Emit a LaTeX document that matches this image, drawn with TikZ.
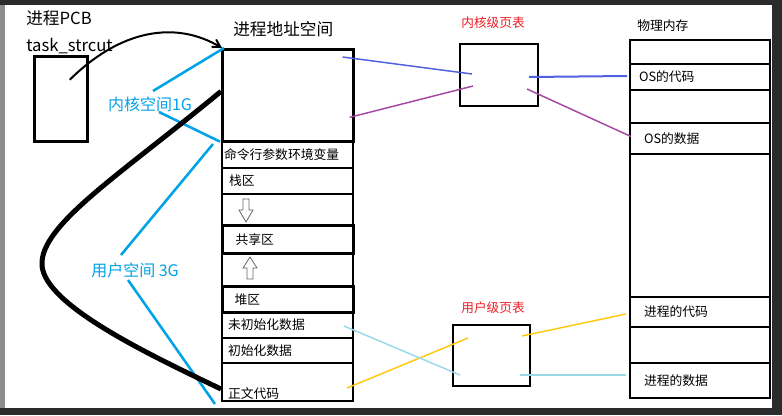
\documentclass[tikz,border=0pt]{standalone}
\usepackage{fontspec}
\setmainfont{Noto Sans CJK SC}
\usetikzlibrary{arrows,calc,positioning}

\definecolor{paintcyan}{RGB}{0,162,232}
\definecolor{paintblue}{RGB}{80,96,224}
\definecolor{paintpurple}{RGB}{163,73,164}
\definecolor{paintgold}{RGB}{255,201,14}
\definecolor{paintsky}{RGB}{153,217,234}
\definecolor{paintred}{RGB}{237,28,36}
\definecolor{framegray}{RGB}{43,43,43}
\newcommand\segfont{\fontsize{9.6}{11}\selectfont}

\begin{document}
\begin{tikzpicture}
[x=0.75pt,y=-0.75pt,>=angle 60,
  seg/.style={draw,line width=1.5pt,anchor=north west,minimum height=#1,
    text width=89.25pt,inner xsep=4.5pt,inner ysep=0pt,align=left,font=\segfont},
  mem/.style={draw,line width=1.5pt,anchor=north west,minimum height=#1,
    text width=84pt,inner xsep=10.5pt,inner ysep=0pt,align=left,font=\segfont},
  table box/.style={draw,line width=1.5pt,anchor=north west,inner sep=0pt},
  title/.style={anchor=west,inner sep=0pt,font=\fontsize{12.5}{14}\selectfont},
  red title/.style={inner sep=0pt,text=paintred,font=\fontsize{9.5}{11}\selectfont},
  space label/.style={inner sep=0pt,text=paintcyan,font=\fontsize{12}{14}\selectfont},
  space line/.style={paintcyan,line width=1.9pt},
  map line/.style={line width=1.1pt},
  grow arrow/.style={draw=black!60,fill=white,line width=0.6pt}]

  \fill[framegray] (0,0) rectangle (782,415);
  \fill[white] (5,5) rectangle (772,408);
  \fill[black!45] (0,5) rectangle (5,408);
  \useasboundingbox (0,0) rectangle (782,415);

  % process control block
  \node[title] (pcbtitle) at (26,18) {进程PCB};
  \node[title] (task) at (26,46) {task\_strcut};
  \node[table box,line width=1.9pt,minimum width=39.75pt,minimum height=63.75pt] (pcb) at (33,55) {};

  % virtual address space
  \node[title] (vtitle) at (233,29) {进程地址空间};
  \node[seg=69pt,line width=2pt] (ks) at (221,48) {};
  \node[seg=20.25pt] (cmd) at (221,140) {\hspace*{-3pt}命令行参数环境变量};
  \node[seg=19.5pt] (stack) at (221,167) {\hspace*{0.75pt}栈区};
  \node[seg=23.25pt] (gap1) at (221,193) {};
  \node[seg=21pt,line width=2.25pt] (shared) at (221,224) {\hspace*{5.25pt}共享区};
  \node[seg=24.75pt] (gap2) at (221,252) {};
  \node[seg=19.5pt,line width=2.25pt] (heap) at (221,285) {\hspace*{4.5pt}堆区};
  \node[seg=19.5pt] (uninit) at (221,311) {未初始化数据};
  \node[seg=18.75pt] (init) at (221,337) {初始化数据};
  \node[seg=28.5pt,text height=24pt,text depth=0pt] (txt) at (221,362) {正文代码};
  % stack grows down, heap grows up
  \draw[grow arrow] (243,199) -- (249,199) -- (249,210) -- (253,210) -- (246,222)
    -- (239,210) -- (243,210) -- cycle;
  \draw[grow arrow] (247,279) -- (253,279) -- (253,268) -- (257,268) -- (250,257)
    -- (243,268) -- (247,268) -- cycle;

  % page tables
  \node[red title] (ktitle) at (493,23) {内核级页表};
  \node[table box,minimum width=58.5pt,minimum height=46.5pt] (kpt) at (459,43) {};
  \node[red title] (utitle) at (493,308) {用户级页表};
  \node[table box,minimum width=57.75pt,minimum height=45.75pt] (upt) at (452,324) {};

  % physical memory
  \node[anchor=west,inner sep=0pt,font=\segfont] (ptitle) at (637,26) {物理内存};
  \node[mem=18pt] (pm0) at (629,39) {};
  \node[mem=19.5pt] (oscode) at (629,63) {\hspace*{-3.75pt}OS的代码};
  \node[mem=24.75pt] (pm1) at (629,89) {};
  \node[mem=23.25pt] (osdata) at (629,122) {OS的数据};
  \node[mem=107.25pt] (pm2) at (629,153) {};
  \node[mem=22.5pt] (pcode) at (629,296) {进程的代码};
  \node[mem=27pt] (pm3) at (629,326) {};
  \node[mem=26.25pt] (pdata) at (629,362) {进程的数据};

  % kernel / user space labels
  \node[space label] (klabel) at (150,104) {内核空间1G};
  \node[space label] (ulabel) at (135,270) {用户空间 3G};
  \draw[space line] ($(klabel.center)+(3,-13)$) -- ($(ks.north west)+(3,0)$);
  \draw[space line] ($(klabel.center)+(9,8)$) -- ($(ks.south west)+(-1,-1)$);
  \draw[space line] ($(ulabel.center)+(-14,-15)$) -- ($(cmd.north west)+(-8,4)$);
  \draw[space line] ($(ulabel.center)+(-7,10)$) -- ($(txt.south west)+(-6,2)$);

  % pcb points to its address space
  \draw[->,line width=1.5pt] ($(pcb.center)+(9,-19)$) .. controls (120,30) and (175,20) .. ($(ks.north west)+(1,0)$);
  \draw[line width=3.75pt] ($(ks.west)+(0,-4)$) .. controls (120,175) and (40,225) .. (42,265)
    .. controls (44,305) and (150,355) .. ($(txt.west)+(0,7)$);

  % mappings through the page tables
  \draw[map line,paintblue] ($(ks.north east)+(-12,9)$) -- ($(kpt.west)+(13,-1)$);
  \draw[map line,paintblue,line width=1.5pt] ($(kpt.east)+(-10,2)$) -- ($(oscode.west)+(-2,-1)$);
  \draw[map line,paintpurple] ($(ks.east)+(-5,22)$) -- ($(kpt.west)+(14,11)$);
  \draw[map line,paintpurple] ($(kpt.east)+(-12,14)$) -- ($(osdata.west)+(2,-2)$);
  \draw[map line,paintgold] ($(txt.east)+(-7,6)$) -- ($(upt.west)+(16,-17.5)$);
  \draw[map line,paintgold] ($(upt.east)+(-9,-19.5)$) -- ($(pcode.west)+(-3,2)$);
  \draw[map line,paintsky] ($(uninit.east)+(-10,1)$) -- ($(upt.west)+(8,19.5)$);
  \draw[map line,paintsky,line width=1.5pt] ($(upt.east)+(-11,19.5)$) -- ($(pdata.west)+(-3,-5.5)$);
\end{tikzpicture}
\end{document}
